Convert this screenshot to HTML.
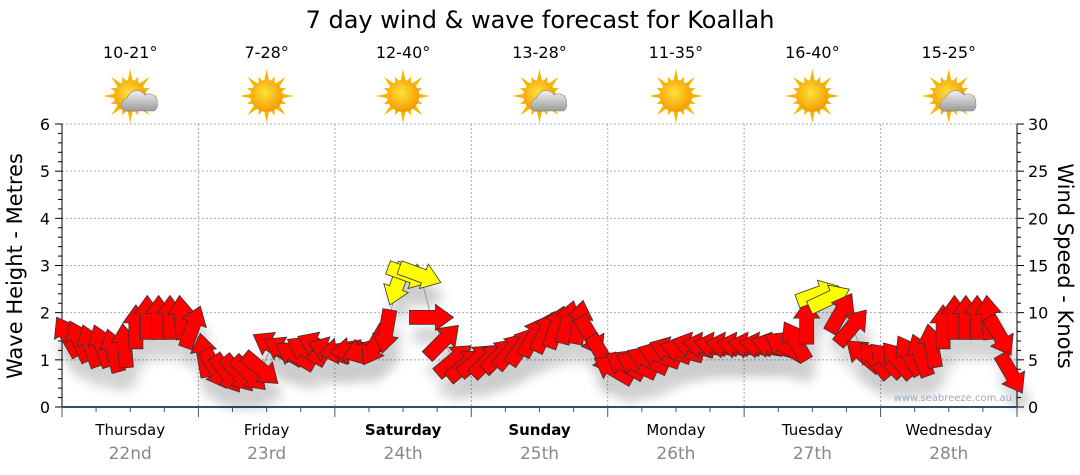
<!DOCTYPE html>
<html><head><meta charset="utf-8">
<style>
body{margin:0;background:#fff;width:1080px;height:475px;overflow:hidden;font-family:"DejaVu Sans","Liberation Sans",sans-serif;}
svg{display:block}
</style></head>
<body>
<svg id="chart" width="1080" height="475" xmlns="http://www.w3.org/2000/svg">
<defs>
<radialGradient id="sunG" cx="45%" cy="40%" r="60%"><stop offset="0" stop-color="#ffe23a"/><stop offset="1" stop-color="#f29a00"/></radialGradient>
<linearGradient id="cloudG" x1="0" y1="0" x2="0" y2="1"><stop offset="0" stop-color="#f2f2f2"/><stop offset="1" stop-color="#9a9a9a"/></linearGradient>
<filter id="sh" x="-50%" y="-50%" width="200%" height="200%"><feGaussianBlur stdDeviation="6"/></filter>
</defs>
<text x="540" y="28" text-anchor="middle" font-size="24" fill="#000">7 day wind &amp; wave forecast for Koallah</text>
<g id="grid"></g>
<g id="axes"></g>
<g id="weather"></g>
<g id="shadows" opacity="0.2"></g>
<g id="marks"></g>
<text transform="translate(22,266) rotate(-90)" text-anchor="middle" font-size="21">Wave Height - Metres</text>
<text transform="translate(1058,266) rotate(90)" text-anchor="middle" font-size="21">Wind Speed - Knots</text>
<text x="1012" y="401" text-anchor="end" font-size="10" fill="#9ab">www.seabreeze.com.au</text>
</svg>
<script>
const days=["Thursday","Friday","Saturday","Sunday","Monday","Tuesday","Wednesday"];
const dates=["22nd","23rd","24th","25th","26th","27th","28th"];
const boldDays=[false,false,true,true,false,false,false];
const temps=["10-21°","7-28°","12-40°","13-28°","11-35°","16-40°","15-25°"];
const cloudy=[true,false,false,true,false,false,true];
const waveTicks=[0,1,2,3,4,5,6];
const windTicks=[0,5,10,15,20,25,30];
// 2-hourly wave heights (m)
const waveHeight=[1.5,1.4,1.3,1.3,1.2,1.3,1.7,1.9,1.9,1.9,1.9,1.7,
 1.1,0.8,0.7,0.7,0.7,0.8,1.3,1.2,1.1,1.2,1.3,1.2,
 1.2,1.2,1.2,1.3,1.6,2.6,2.8,2.8,1.9,1.4,1.0,0.9,
 1.0,1.0,1.1,1.2,1.3,1.5,1.6,1.7,1.8,1.8,1.5,1.1,
 0.8,0.9,0.9,1.0,1.1,1.2,1.2,1.3,1.3,1.3,1.3,1.3,
 1.3,1.3,1.3,1.3,1.4,1.8,2.4,2.3,2.0,1.7,1.1,1.0,
 1.0,1.0,1.1,1.1,1.3,1.7,1.9,1.9,1.9,1.9,1.5,0.7];
// arrow pointing direction (screen degrees, 0=right, -90=up)
const windDir=[-120,-115,-110,-110,-105,-95,-90,-90,-90,-90,-95,-70,
 -100,60,55,50,45,40,-150,-150,-150,-150,-155,-160,
 170,175,160,120,100,110,20,20,0,-45,-40,-40,
 -40,-45,-45,-50,-55,-60,-65,-70,-75,-80,60,60,
 -150,-150,-155,-155,-160,-160,-165,-165,-170,-170,-170,-170,
 -170,-170,-165,-150,-120,-90,-20,-25,-60,-50,-140,-130,
 -135,-130,-120,-110,-100,-90,-90,-90,-90,-95,60,60];
// wind speed (knots)
const windSpeed=[10,10,10,9,9,10,11,11,11,11,11,10,
 8,7,6,6,7,7,8,8,9,9,9,9,
 9,9,9,10,12,16,16,16,12,10,9,9,
 9,10,10,11,11,12,12,12,12,12,9,8,
 7,7,8,8,8,8,8,8,8,8,8,8,
 8,8,8,9,10,12,15,15,12,11,9,9,
 8,8,9,9,10,11,12,12,12,12,9,8];

const X0=62,X1=1017,Y0=407,YT=124;
const dayW=(X1-X0)/7;
const xs=h=>X0+h/24*dayW;
const ys=m=>Y0-m/6*(Y0-YT);
const ysW=k=>Y0-k/30*(Y0-YT);
const NS="http://www.w3.org/2000/svg";
function mk(t,a,p){const e=document.createElementNS(NS,t);for(const k in a)e.setAttribute(k,a[k]);p.appendChild(e);return e;}
const grid=document.getElementById('grid'),axes=document.getElementById('axes'),wx=document.getElementById('weather'),marks=document.getElementById('marks'),shd=document.getElementById('shadows');

waveTicks.forEach(v=>{if(v>0){const g=mk('line',{x1:X0,x2:X1,y1:ys(v),y2:ys(v),stroke:'#aaa','stroke-dasharray':'2,2'},grid);

}
const t=mk('text',{x:X0-12,y:ys(v)+6,'text-anchor':'end','font-size':16},axes);t.textContent=v;

});
windTicks.forEach(v=>{const t=mk('text',{x:X1+11,y:ysW(v)+6,'font-size':16},axes);t.textContent=v;

});
mk('line',{x1:X0,x2:X0,y1:YT,y2:Y0,stroke:'#000'},axes);
mk('line',{x1:X1,x2:X1,y1:YT,y2:Y0,stroke:'#000'},axes);
for(let i=0;i<=30;i++){const y=Y0-i*(Y0-YT)/30;const L=i%5==0?7:4;
mk('line',{x1:X0-L,x2:X0,y1:y,y2:y,stroke:'#000'},axes);mk('line',{x1:X1,x2:X1+L,y1:y,y2:y,stroke:'#000'},axes);}
for(let d=1;d<7;d++){const g=mk('line',{x1:xs(d*24),x2:xs(d*24),y1:YT,y2:Y0,stroke:'#aaa','stroke-dasharray':'2,2'},grid);

}
mk('line',{x1:X0,x2:X1,y1:Y0,y2:Y0,stroke:'#2a4e7a','stroke-width':2},axes);
for(let h=0;h<=168;h+=6){mk('line',{x1:xs(h),x2:xs(h),y1:Y0,y2:Y0+(h%24==0?10:5),stroke:'#555'},axes);}
days.forEach((d,i)=>{const cx=xs(i*24+12);
const t=mk('text',{x:cx,y:435,'text-anchor':'middle','font-size':15,'font-weight':boldDays[i]?'bold':'normal'},axes);t.textContent=d;


const t2=mk('text',{x:cx,y:459,'text-anchor':'middle','font-size':17,fill:'#888'},axes);t2.textContent=dates[i];


const tt=mk('text',{x:cx,y:58,'text-anchor':'middle','font-size':16},wx);tt.textContent=temps[i];


const g=mk('g',{transform:`translate(${cx},96)`},wx);


for(let r=0;r<16;r++){const a=r*Math.PI/8,l=r%2?21:27;
mk('polygon',{points:`${Math.cos(a)*l},${Math.sin(a)*l} ${Math.cos(a+0.2)*14},${Math.sin(a+0.2)*14} ${Math.cos(a-0.2)*14},${Math.sin(a-0.2)*14}`,fill:'#f5b800'},g);}
mk('circle',{r:16,fill:'url(#sunG)'},g);
if(cloudy[i]){mk('path',{d:'M-5,15 a7,7 0 0 1 2,-13 a10,10 0 0 1 18,-3 a8,8 0 0 1 12,8 a7,7 0 0 1 -3,8 z',fill:'url(#cloudG)',stroke:'#888','stroke-width':0.6},g);}
});

const step=2;
let pts=waveHeight.map((v,i)=>`${xs(i*step+1)},${ys(v)}`).join(' ');
const cl=mk('polyline',{points:pts,fill:'none',stroke:'#999','stroke-width':1},marks);


const arrow='M-22,-7 L4,-7 L4,-13 L22,0 L4,13 L4,7 L-22,7 Z';
waveHeight.forEach((v,i)=>{const x=xs(i*step+1),y=ys(v);
mk('path',{d:arrow,transform:`translate(${x+4},${y+18}) rotate(${windDir[i]})`,fill:'#000',filter:'url(#sh)'},shd);
const a=mk('path',{d:arrow,transform:`translate(${x},${y}) rotate(${windDir[i]})`,fill:windSpeed[i]>=14?'#ffff00':'#ff0000',stroke:'#333','stroke-width':0.8},marks);

});
</script>
</body></html>
